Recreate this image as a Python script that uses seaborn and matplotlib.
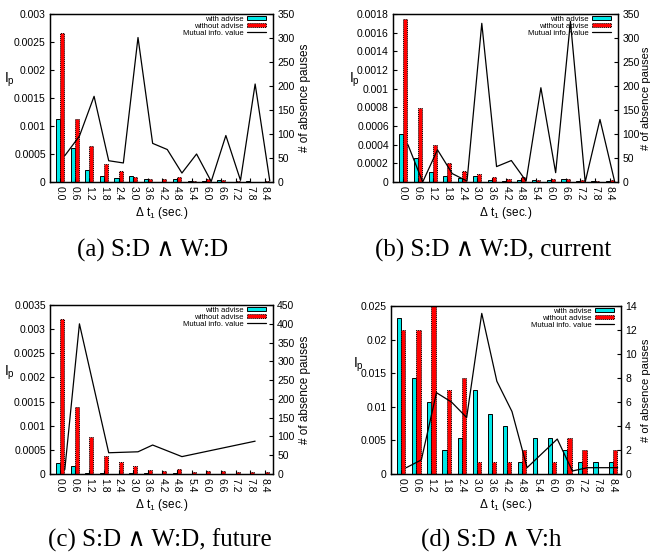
import numpy as np
import pandas as pd
import seaborn as sns
import matplotlib.pyplot as plt
from matplotlib.patches import Patch
from matplotlib.lines import Line2D
from matplotlib.ticker import FuncFormatter

# x categories (delta t1, sec.)
dt_labels = ['0.0', '0.6', '1.2', '1.8', '2.4', '3.0', '3.6', '4.2',
             '4.8', '5.4', '6.0', '6.6', '7.2', '7.8', '8.4']
nan = np.nan

# (a) S:D ^ W:D
a_with = [131, 71, 24, 13, 8, 13, 6, 1, 6, 3, 2, 5, 1, 3, 1]
a_without = [311, 131, 76, 37, 23, 11, 7, 6, 10, 3, 6, 5, 3, 1, 3]
a_mi = [0.00047, 0.00082, 0.00153, 0.00038, 0.00034, 0.00258, 0.00069, 0.00058,
        0.00016, 0.0005, 0.00001, 0.00083, 0.00003, 0.00175, 0.00002]

# (b) S:D ^ W:D, current
b_with = [101, 49, 21, 12, 8, 12, 4, 2, 4, 4, 4, 6, 2, 2, 2]
b_without = [340, 154, 78, 39, 23, 16, 10, 6, 10, 4, 6, 6, 4, 2, 4]
b_mi = [0.0004, 0.0, 0.000345, 0.00009, 0.00001, 0.0017, 0.000165, 0.00023,
        0.00001, 0.00101, 0.0001, 0.00172, 0.0, 0.00067, 0.0]

# (c) S:D ^ W:D, future
c_with = [28, 22, 3, 2, 0, 2, 2, 0, 2, 0, 0, 0, 0, 1, 0]
c_without = [413, 179, 98, 48, 32, 22, 11, 7, 13, 6, 9, 9, 5, 4, 4]
c_mi = [0.00009, 0.00311, nan, 0.00044, 0.00045, 0.00046, 0.0006, nan,
        0.00036, nan, nan, nan, nan, 0.00068, nan]

# (d) S:D ^ V:h
d_with = [13, 8, 6, 2, 3, 7, 5, 4, 1, 3, 3, 2, 1, 1, 1]
d_without = [12, 12, 14, 7, 8, 1, 1, 1, 2, 0, 1, 3, 2, 0, 2]
d_mi = [0.00094, 0.0021, 0.0121, 0.0107, 0.0084, 0.0239, 0.0138, 0.0093,
        0.00094, nan, 0.0052, 0.00045, 0.00094, 0.00094, 0.00094]

captions = ['(a) S:D \u2227 W:D', '(b) S:D \u2227 W:D, current',
            '(c) S:D \u2227 W:D, future', '(d) S:D \u2227 V:h']

sns.set_theme(style='ticks')
plt.rcParams['font.family'] = ['Liberation Sans', 'DejaVu Sans']
plt.rcParams['mathtext.fontset'] = 'custom'
plt.rcParams['mathtext.rm'] = 'Liberation Sans'
for k in ['text.color', 'axes.labelcolor', 'xtick.color', 'ytick.color']:
    plt.rcParams[k] = 'black'

CYAN = '#00e8e8'
RED = '#ff0000'
W, H = 651, 559
fig = plt.figure(figsize=(W / 100, H / 100), dpi=100)


def panel(box, with_adv, without_adv, mi, lmax, lstep, rmax, rstep, ylab_pos):
    l, t, r, b = box
    ax = fig.add_axes([l / W, 1 - b / H, (r - l) / W, (b - t) / H])
    ax2 = ax.twinx()

    df = pd.DataFrame({'dt': dt_labels * 2,
                       'count': with_adv + without_adv,
                       'kind': ['with advise'] * 15 + ['without advise'] * 15})
    sns.barplot(data=df, x='dt', y='count', hue='kind', order=dt_labels,
                hue_order=['with advise', 'without advise'],
                palette={'with advise': CYAN, 'without advise': RED},
                saturation=1, width=0.55, errorbar=None, legend=False,
                edgecolor='black', linewidth=0.7, ax=ax2)
    for p in ax2.containers[1]:
        p.set_linestyle((0, (1, 1)))

    mi = np.array(mi, dtype=float)
    xs = np.arange(15) + 0.33
    ok = ~np.isnan(mi)
    sns.lineplot(x=xs[ok], y=mi[ok], color='black', lw=0.9, ax=ax, sort=False)

    # put the line axis on top
    ax.set_zorder(ax2.get_zorder() + 1)
    ax.patch.set_visible(False)

    ax.set_xlim(-0.68, 14.55)
    ax.set_ylim(0, lmax)
    ax.set_yticks(np.arange(0, lmax + lstep / 2, lstep))
    ax.yaxis.set_major_formatter(FuncFormatter(lambda v, p: '%g' % round(v, 6)))
    ax2.set_ylim(0, rmax)
    ax2.set_yticks(np.arange(0, rmax + rstep / 2, rstep))
    ax.set_xticks(range(15))
    ax.set_xticklabels(dt_labels, rotation=270)

    ax.tick_params(axis='both', direction='in', length=3, width=0.8,
                   labelsize=7.5, pad=3)
    ax.tick_params(axis='y', right=False)
    ax2.tick_params(axis='y', direction='in', length=3, width=0.8,
                    labelsize=7.5, pad=3)
    for a in (ax, ax2):
        for s in a.spines.values():
            s.set_linewidth(0.9)
            s.set_color('black')

    ax2.set_xlabel('')
    ax.set_xlabel('\u0394 t$_\\mathrm{1}$ (sec.)', fontsize=8.5, va='center')
    ax.xaxis.set_label_coords(0.5, -31 / (b - t))
    ax.set_ylabel('I$_\\mathrm{p}$', fontsize=10, rotation=0, ha='center', va='center')
    ax.yaxis.set_label_coords(*ylab_pos)
    # label sits at the page edge for the right-hand panels
    lx = min(r + 32, 646)
    ax2.set_ylabel('# of absence pauses', fontsize=8.5 if lx == r + 32 else 8,
                   rotation=90, ha='center', va='center')
    ax2.yaxis.set_label_coords((lx - l) / (r - l), 0.5)

    handles = [Patch(facecolor=CYAN, edgecolor='black', linewidth=0.7),
               Patch(facecolor=RED, edgecolor='black', linewidth=0.7, linestyle=(0, (1, 1))),
               Line2D([], [], color='black', lw=0.9)]
    ax.legend(handles, ['with advise', 'without advise', 'Mutual info. value'],
              loc='upper right', bbox_to_anchor=(1 - 5 / (r - l), 1), markerfirst=False,
              frameon=False, fontsize=5.6, handlelength=2.4, handleheight=0.5,
              labelspacing=-0.02, handletextpad=0.5, borderpad=0.15, borderaxespad=0.1)
    return ax


panel((50, 14, 273, 182), a_with, a_without, a_mi, 0.003, 0.0005, 350, 50, (-0.18, 0.61))
panel((393, 14, 618, 182), b_with, b_without, b_mi, 0.0018, 0.0002, 350, 50, (-0.17, 0.61))
panel((50, 305, 273, 474), c_with, c_without, c_mi, 0.0035, 0.0005, 450, 50, (-0.18, 0.60))
panel((391, 306, 621, 474), d_with, d_without, d_mi, 0.025, 0.005, 14, 2, (-0.14, 0.65))

cap_pos = [(153, 250), (493, 250), (160, 540), (491, 540)]
for (cx, cy), txt in zip(cap_pos, captions):
    fig.text(cx / W, 1 - cy / H, txt, ha='center', va='center', fontsize=18,
             color='black', family=['Liberation Serif', 'DejaVu Serif'])

fig.savefig('out.png', dpi=100)
